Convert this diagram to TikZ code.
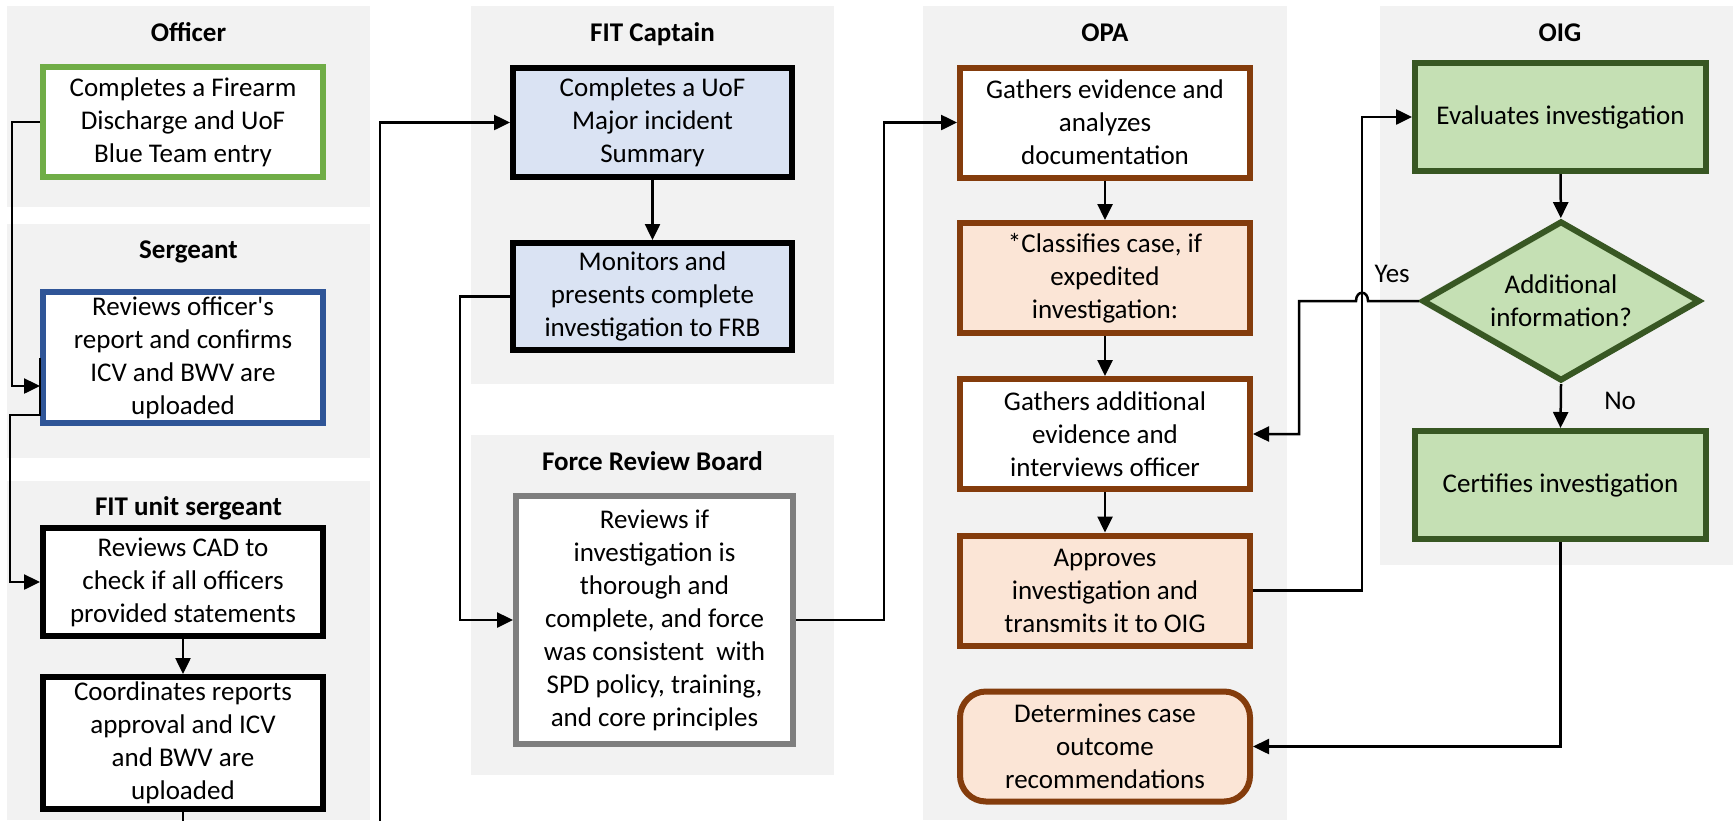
\documentclass[tikz,border=0pt]{standalone}
\usepackage{fontspec}
\setmainfont{Carlito}[Ligatures=TeXOff]
\usetikzlibrary{arrows.meta,shapes.geometric}
\definecolor{lanegray}{HTML}{F2F2F2}
\definecolor{offgreen}{HTML}{70AD47}
\definecolor{sergblue}{HTML}{2F5597}
\definecolor{captfill}{HTML}{DAE3F3}
\definecolor{frbgray}{HTML}{7F7F7F}
\definecolor{opabrown}{HTML}{843C0C}
\definecolor{opafill}{HTML}{FBE5D6}
\definecolor{oigfill}{HTML}{C5E0B4}
\definecolor{oigdark}{HTML}{385723}
\newcommand{\boxfont}{\fontsize{13.5}{16.5}\selectfont}
\tikzset{
    %Define standard arrow tip
    >={Triangle[length=8pt,width=7.5pt]},
    %Define style for lanes
    lane/.style={fill=lanegray, draw=none},
    lanetitle/.style={font=\boxfont\bfseries, anchor=base, inner sep=0pt},
    %Define style for boxes
    stepbox/.style={
           rectangle,
           draw=black, line width=3pt,
           fill=white,
           minimum width=140pt,
           minimum height=55pt,
           inner sep=1pt,
           align=center,
           font=\boxfont},
    opabox/.style={
           stepbox,
           draw=opabrown,
           minimum width=145pt},
    oigbox/.style={
           stepbox,
           draw=oigdark,
           fill=oigfill,
           minimum width=145.5pt,
           minimum height=54pt},
    decide/.style={
           diamond,
           aspect=1.75,
           draw=oigdark, line width=3pt,
           fill=oigfill,
           minimum width=139pt,
           minimum height=80pt,
           inner sep=0pt,
           align=center,
           font=\boxfont},
    % Define arrow style
    arr/.style={
           ->,
           line width=1.25pt},
    lbl/.style={font=\boxfont, inner sep=0pt}
}
\begin{document}
\begin{tikzpicture}[x=0.5pt, y=-0.5pt]
    \useasboundingbox (0,0) rectangle (1733,820);

    % LANES
    \fill[lane] (7,6) rectangle (370,207);
    \fill[lane] (7,224) rectangle (370,458);
    \fill[lane] (7,481) rectangle (370,820);
    \fill[lane] (471,6) rectangle (834,384);
    \fill[lane] (471,435) rectangle (834,775);
    \fill[lane] (923,6) rectangle (1287,820);
    \fill[lane] (1380,6) rectangle (1733,565);

    \node[lanetitle] (tOff) at (188.5,41) {Officer};
    \node[lanetitle] (tSerg) at (188.5,258) {Sergeant};
    \node[lanetitle] (tFit) at (188.5,515) {FIT unit sergeant};
    \node[lanetitle] (tCapt) at (652.5,41) {FIT Captain};
    \node[lanetitle] (tFrb) at (652.5,470) {Force Review Board};
    \node[lanetitle] (tOpa) at (1105,41) {OPA};
    \node[lanetitle] (tOig) at (1560,41) {OIG};

    % OFFICER, SERGEANT, FIT UNIT
    \node[stepbox, draw=offgreen] at (183,122) (off) {Completes a Firearm\\Discharge and UoF\\Blue Team entry};
    \node[stepbox, draw=sergblue, minimum height=65.5pt] at (183,357.5) (serg) {Reviews officer's\\report and confirms\\ICV and BWV are\\uploaded};
    \node[stepbox, minimum height=54pt] at (183,582) (fit1) {Reviews CAD to\\check if all officers\\provided statements};
    \node[stepbox, minimum height=66pt] at (183,743) (fit2) {Coordinates reports\\approval and ICV\\and BWV are\\uploaded};

    % FIT CAPTAIN, FRB
    \node[stepbox, fill=captfill, minimum width=139.5pt, minimum height=54.5pt] at (652.5,122.5) (capt1) {Completes a UoF\\Major incident\\Summary};
    \node[stepbox, fill=captfill, minimum width=139.5pt, minimum height=53.5pt] at (652.5,296.5) (capt2) {Monitors and\\presents complete\\investigation to FRB};
    \node[stepbox, draw=frbgray, minimum width=138.5pt, minimum height=124pt] at (654.5,620) (frb) {Reviews if\\investigation is\\thorough and\\complete, and force\\was consistent\ \ with\\SPD policy, training,\\and core principles};

    % OPA
    \node[opabox] at (1105,122.5) (opa1) {Gathers evidence and\\analyzes\\documentation};
    \node[opabox, fill=opafill] at (1105,278) (opa2) {*Classifies case, if\\expedited\\investigation:};
    \node[opabox] at (1105,434) (opa3) {Gathers additional\\evidence and\\interviews officer};
    \node[opabox, fill=opafill] at (1105,590.5) (opa4) {Approves\\investigation and\\transmits it to OIG};
    \node[opabox, fill=opafill, rounded corners=13pt] at (1105,746.5) (opa5) {Determines case\\outcome\\recommendations};

    % OIG
    \node[oigbox] at (1560.5,117) (oig1) {Evaluates investigation};
    \node[decide] at (1561,301) (dia) {Additional\\information?};
    \node[oigbox] at (1560.5,485) (oig2) {Certifies investigation};

    % bends
    \coordinate (bendA) at (12,386);
    \coordinate (bendB) at (10,415);
    \coordinate (bendC) at (380,850);
    \coordinate (bendD) at (460,620);
    \coordinate (bendE) at (884,122.5);
    \coordinate (bendF) at (1362,117);
    \coordinate (hopR) at (1368,301);
    \coordinate (hopL) at (1356,301);
    \coordinate (bendG) at (1299,301);

    % CONNECTORS
    \draw[arr] (off.west) -| (bendA) -- ([yshift=-14.25pt]serg.west);
    \draw[arr] (serg.west) |- (bendB) |- (fit1.west);
    \draw[arr] (fit1) -- (fit2);
    \draw[arr] (fit2.south) |- (bendC) |- (capt1.west);
    \draw[arr] (capt1) -- (capt2);
    \draw[arr] (capt2.west) -| (bendD) -- (frb.west);
    \draw[arr] (frb.east) -| (bendE) -- (opa1.west);
    \draw[arr] (opa1) -- (opa2);
    \draw[arr] (opa2) -- (opa3);
    \draw[arr] (opa3) -- (opa4);
    \draw[arr] (opa4.east) -| (bendF) -- (oig1.west);
    \draw[arr] (oig1) -- (dia);
    \draw[arr] (dia.west) node[lbl, anchor=base east, xshift=-4pt, yshift=9.5pt] (yes) {Yes}
        -- (hopR) .. controls (1368,290) and (1356,290) .. (hopL) -- (bendG) |- (opa3.east);
    \draw[arr] (dia.south) node[lbl, anchor=base west, xshift=21pt, yshift=-12.5pt] (no) {No} -- (oig2.north);
    \draw[arr] (oig2.south) |- (opa5.east);

\end{tikzpicture}
\end{document}
